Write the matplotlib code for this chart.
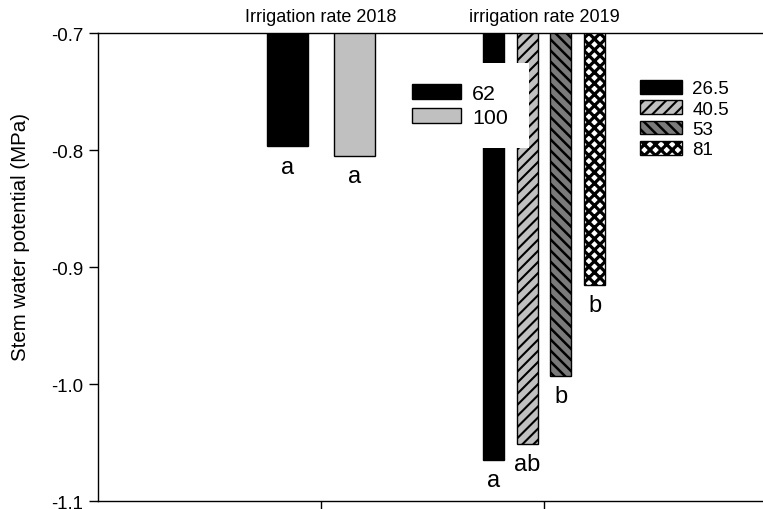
import numpy as np
import matplotlib
matplotlib.use("Agg")
import matplotlib.pyplot as plt
from matplotlib.patches import Patch

plt.rcParams['font.family'] = ['Liberation Sans', 'DejaVu Sans']
plt.rcParams['axes.unicode_minus'] = False

# Stem water potential (MPa), one group per season
rates_2018 = ['62', '100']
swp_2018 = [-0.797, -0.805]
letters_2018 = ['a', 'a']

rates_2019 = ['26.5', '40.5', '53', '81']
swp_2019 = [-1.065, -1.051, -0.993, -0.915]
letters_2019 = ['a', 'ab', 'b', 'b']

group_titles = ['Irrigation rate 2018', 'irrigation rate 2019']

# fills / hatches for each treatment (hlw = hatch line width)
style_2018 = [dict(facecolor='black', hatch=None, hlw=1.5),
              dict(facecolor='#c0c0c0', hatch=None, hlw=1.5)]
style_2019 = [dict(facecolor='black', hatch=None, hlw=1.5),
              dict(facecolor='#c0c0c0', hatch='///', hlw=1.5),
              dict(facecolor='#7a7a7a', hatch='\\\\\\', hlw=1.8),
              dict(facecolor='white', hatch='xxx', hlw=2.3)]


def draw_bar(ax, x, v, w, st):
    with plt.rc_context({'hatch.linewidth': st['hlw']}):
        ax.bar(x, v, width=w, facecolor=st['facecolor'], hatch=st['hatch'],
               edgecolor='black', linewidth=1)


def legend_patch(st):
    return Patch(facecolor=st['facecolor'], hatch=st['hatch'],
                 edgecolor='black', linewidth=1)


def fix_hatch_width(leg, styles):
    for p, st in zip(leg.get_patches(), styles):
        if hasattr(p, 'set_hatch_linewidth'):
            p.set_hatch_linewidth(st['hlw'])
        else:
            p._hatch_linewidth = st['hlw']


fig = plt.figure(figsize=(7.63, 5.10), dpi=100)
ax = fig.add_axes([98 / 763, 8 / 510, 669 / 763, 468 / 510])

# 2018 group centred on x=1
x18 = 1 + np.array([-0.15, 0.15])
for xi, v, st in zip(x18, swp_2018, style_2018):
    draw_bar(ax, xi, v, 0.185, st)

# 2019 group centred on x=2
x19 = 2 + (np.arange(4) - 1.5) * 0.151
for xi, v, st in zip(x19, swp_2019, style_2019):
    draw_bar(ax, xi, v, 0.094, st)

# significance letters under each bar
for xi, v, s in list(zip(x18, swp_2018, letters_2018)) + list(zip(x19, swp_2019, letters_2019)):
    ax.annotate(s, (xi, v), xytext=(0, -19), textcoords='offset points',
                ha='center', va='baseline', fontsize=17)

ax.set_xlim(0, 3)
ax.set_ylim(-1.1, -0.7)
ax.set_yticks([-1.1, -1.0, -0.9, -0.8, -0.7])
ax.set_yticklabels(['-1.1', '-1.0', '-0.9', '-0.8', '-0.7'])
ax.set_xticks([1, 2])
ax.set_xticklabels([])
ax.tick_params(direction='out', length=6.5, width=1, pad=4.3, labelsize=13.4)
ax.spines['right'].set_visible(False)
for s in ['left', 'bottom', 'top']:
    ax.spines[s].set_linewidth(1)

ax.set_ylabel('Stem water potential (MPa)', fontsize=14.8, va='center')
ax.yaxis.set_label_coords(-77 / 669, 0.566)

for xc, t in zip([1, 2], group_titles):
    ax.text(xc, 1 + 12 / 468, t, transform=ax.get_xaxis_transform(),
            ha='center', va='baseline', fontsize=13)

h18 = [legend_patch(st) for st in style_2018]
leg1 = ax.legend(h18, rates_2018, loc='upper left',
                 bbox_to_anchor=(391 / 763, 1 - 64 / 510), bbox_transform=fig.transFigure,
                 fontsize=15.4, frameon=True, facecolor='white', edgecolor='none',
                 framealpha=1, fancybox=False, borderpad=1.0, borderaxespad=0,
                 handlelength=49 / 21.4, handleheight=15 / 21.4,
                 handletextpad=0.5, labelspacing=0.2)
ax.add_artist(leg1)

h19 = [legend_patch(st) for st in style_2019]
leg2 = ax.legend(h19, rates_2019, loc='upper left',
                 bbox_to_anchor=(640 / 763, 1 - 81 / 510), bbox_transform=fig.transFigure,
                 fontsize=13.5, frameon=False, borderpad=0, borderaxespad=0,
                 handlelength=42 / 18.75, handleheight=14 / 18.75,
                 handletextpad=0.55, labelspacing=0.155)
fix_hatch_width(leg2, style_2019)

fig.savefig('out.png', dpi=100)
